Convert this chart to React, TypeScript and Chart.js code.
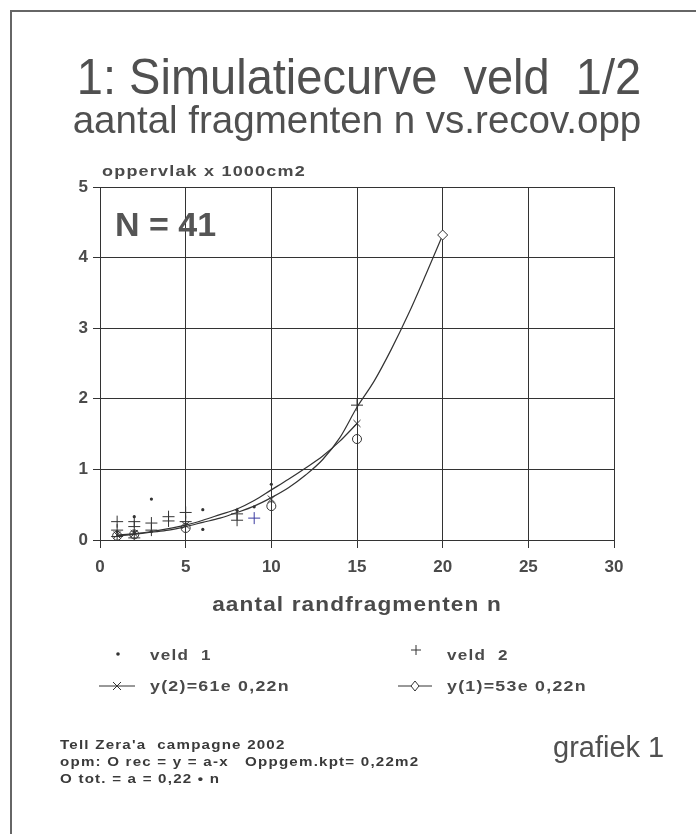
import React, { useEffect, useRef } from "react";
import { Chart, registerables } from "chart.js";
Chart.register(...registerables);

// ---- data ----
const veld1X = [1, 2, 2, 3, 3, 6, 6, 8, 9, 10];
const veld1Y = [0.12, 0.33, 0.12, 0.58, 0.12, 0.43, 0.15, 0.42, 0.47, 0.79];

const veld2X = [1, 1, 1, 2, 2, 2, 3, 3, 4, 4, 5, 5, 8, 8, 9, 15];
const veld2Y = [0.26, 0.14, 0.05, 0.26, 0.19, 0.03, 0.24, 0.14, 0.33, 0.27, 0.39, 0.26, 0.37, 0.28, 0.31, 1.91];

const curve2X = [1, 2, 3, 4, 5, 6, 7, 8, 9, 10, 11, 12, 13, 14, 15];
const curve2Y = [0.07, 0.09, 0.12, 0.16, 0.21, 0.28, 0.36, 0.44, 0.56, 0.71, 0.86, 1.02, 1.19, 1.4, 1.65];
const curve2Marks = [1, 2, 5, 15];

const curve1X = [1, 2, 3, 4, 5, 6, 7, 8, 9, 10, 11, 12, 13, 14, 15, 16, 17, 18, 19, 20];
const curve1Y = [0.06, 0.08, 0.11, 0.14, 0.19, 0.25, 0.31, 0.39, 0.48, 0.6, 0.74, 0.92, 1.14, 1.45, 1.88, 2.25, 2.7, 3.2, 3.75, 4.32];
const curve1Marks = [20];

const recX = [1, 2, 5, 10, 15];
const recY = [0.06, 0.08, 0.17, 0.48, 1.43];

const crossX = [10];
const crossY = [0.58];

const xTickStep = 5;
const yTickStep = 1;

const pts = (xs: number[], ys: number[]) => xs.map((x, i) => ({ x, y: ys[i] }));

const INK = "#333";
const TXT = "#4a4a4a";
const FONT = "'Liberation Sans', Arial, Helvetica, sans-serif";

export default function App() {
  const ref = useRef<HTMLCanvasElement>(null);
  useEffect(() => {
    document.body.style.margin = "0";
    const canvas = ref.current!;
    const chart = new Chart(canvas, {
      type: "scatter",
      data: {
        datasets: [
          {
            label: "veld 1",
            data: pts(veld1X, veld1Y),
            pointStyle: "circle",
            pointRadius: 1.6,
            pointBackgroundColor: INK,
            pointBorderColor: INK,
            pointBorderWidth: 0,
          },
          {
            label: "veld 2",
            data: pts(veld2X, veld2Y),
            pointStyle: "cross",
            pointRadius: 6,
            pointBorderWidth: 1,
            pointBorderColor: veld2X.map((x) => (x === 9 ? "#3a3aa0" : INK)),
          },
          {
            label: "y(2)=61e 0,22n",
            data: pts(curve2X, curve2Y),
            showLine: true,
            tension: 0.4,
            cubicInterpolationMode: "monotone",
            borderColor: INK,
            borderWidth: 1.2,
            pointStyle: "crossRot",
            pointRadius: curve2X.map((x) => (curve2Marks.includes(x) ? 5 : 0)),
            pointBorderColor: INK,
            pointBorderWidth: 1,
          },
          {
            label: "y(2) punt",
            data: pts(crossX, crossY),
            pointStyle: "crossRot",
            pointRadius: 5,
            pointBorderColor: INK,
            pointBorderWidth: 1,
          },
          {
            label: "y(1)=53e 0,22n",
            data: pts(curve1X, curve1Y),
            showLine: true,
            tension: 0.4,
            cubicInterpolationMode: "monotone",
            borderColor: INK,
            borderWidth: 1.2,
            pointStyle: "rectRot",
            pointRadius: curve1X.map((x) => (curve1Marks.includes(x) ? 5 : 0)),
            pointBackgroundColor: "#fff",
            pointBorderColor: INK,
            pointBorderWidth: 1,
          },
          {
            label: "O rec",
            data: pts(recX, recY),
            pointStyle: "circle",
            pointRadius: 4.5,
            pointBackgroundColor: "rgba(255,255,255,0)",
            pointBorderColor: INK,
            pointBorderWidth: 1,
          },
        ],
      },
      options: {
        responsive: false,
        animation: false,
        layout: { padding: { left: 50, right: 82, top: 187, bottom: 254 } },
        plugins: { legend: { display: false }, tooltip: { enabled: false }, title: { display: false } },
        scales: {
          x: {
            type: "linear",
            min: 0,
            max: 30,
            ticks: { stepSize: xTickStep, color: TXT, padding: 9, font: { family: FONT, size: 17, weight: "bold" } },
            grid: { color: INK, lineWidth: 1, tickLength: 8 },
            border: { color: INK, width: 1 },
            afterFit: (s: any) => {
              s.height = 40;
            },
          },
          y: {
            type: "linear",
            min: 0,
            max: 5,
            ticks: { stepSize: yTickStep, color: TXT, padding: 5, font: { family: FONT, size: 17, weight: "bold" } },
            grid: { color: INK, lineWidth: 1, tickLength: 7 },
            border: { color: INK, width: 1 },
            afterFit: (s: any) => {
              s.width = 50;
            },
          },
        },
      },
    } as any);
    return () => chart.destroy();
  }, []);

  const abs = (o: React.CSSProperties): React.CSSProperties => ({
    position: "absolute",
    whiteSpace: "pre",
    fontFamily: FONT,
    color: TXT,
    lineHeight: 1,
    margin: 0,
    transformOrigin: "0 0",
    ...o,
  });

  const small = (left: number, top: number, sx: number, extra: React.CSSProperties = {}) =>
    abs({ left, top, fontSize: 14, fontWeight: "bold", letterSpacing: 1, transform: `scaleX(${sx})`, ...extra });

  return (
    <div style={{ position: "relative", width: 696, height: 834, overflow: "hidden", background: "#fff" }}>
      <div
        style={{
          position: "absolute",
          left: 10,
          top: 10,
          right: -10,
          bottom: -10,
          border: "2px solid #666",
        }}
      />
      <canvas ref={ref} width={696} height={834} style={{ position: "absolute", left: 0, top: 0 }} />
      <div
        style={abs({
          left: 359,
          top: 52,
          fontSize: 50,
          transform: "translateX(-50%) scaleX(0.94)",
          transformOrigin: "50% 0",
          color: "#505050",
        })}
      >
        1: Simulatiecurve  veld  1/2
      </div>
      <div
        style={abs({
          left: 357,
          top: 101,
          fontSize: 38.5,
          transform: "translateX(-50%)",
          transformOrigin: "50% 0",
          color: "#505050",
        })}
      >
        aantal fragmenten n vs.recov.opp
      </div>
      <div style={abs({ left: 102, top: 163, fontSize: 15, fontWeight: "bold", letterSpacing: 1, transform: "scaleX(1.2)" })}>
        oppervlak x 1000cm2
      </div>
      <div style={abs({ left: 115, top: 207, fontSize: 34, fontWeight: "bold", color: "#555" })}>N = 41</div>
      <div
        style={abs({
          left: 357,
          top: 594,
          fontSize: 20,
          fontWeight: "bold",
          letterSpacing: 1,
          transform: "translateX(-50%) scaleX(1.13)",
          transformOrigin: "50% 0",
        })}
      >
        aantal randfragmenten n
      </div>

      {/* legend */}
      <svg width={696} height={60} style={{ position: "absolute", left: 0, top: 640 }}>
        <circle cx={118} cy={14} r={1.8} fill={INK} />
        <path d="M411 10 H421 M416 5 V15" stroke={INK} strokeWidth={1} />
        <path d="M99 46 H135" stroke={INK} strokeWidth={1} />
        <path d="M113 42 L121 50 M121 42 L113 50" stroke={INK} strokeWidth={1} />
        <path d="M398 46 H432" stroke={INK} strokeWidth={1} />
        <path d="M415 41 L419 46 L415 51 L411 46 Z" stroke={INK} strokeWidth={1} fill="#fff" />
      </svg>
      <div style={small(150, 648, 1.22)}>veld  1</div>
      <div style={small(447, 648, 1.22)}>veld  2</div>
      <div style={small(150, 679, 1.27)}>y(2)=61e 0,22n</div>
      <div style={small(447, 679, 1.27)}>y(1)=53e 0,22n</div>

      <div style={abs({ left: 553, top: 733, fontSize: 29, color: "#505050" })}>grafiek 1</div>

      <div style={small(60, 739, 1.21, { fontSize: 12.5, color: "#3a3a3a" })}>Tell Zera'a  campagne 2002</div>
      <div style={small(60, 756, 1.21, { fontSize: 12.5, color: "#3a3a3a" })}>opm: O rec = y = a-x   Oppgem.kpt= 0,22m2</div>
      <div style={small(60, 773, 1.21, { fontSize: 12.5, color: "#3a3a3a" })}>O tot. = a = 0,22 • n</div>
    </div>
  );
}
